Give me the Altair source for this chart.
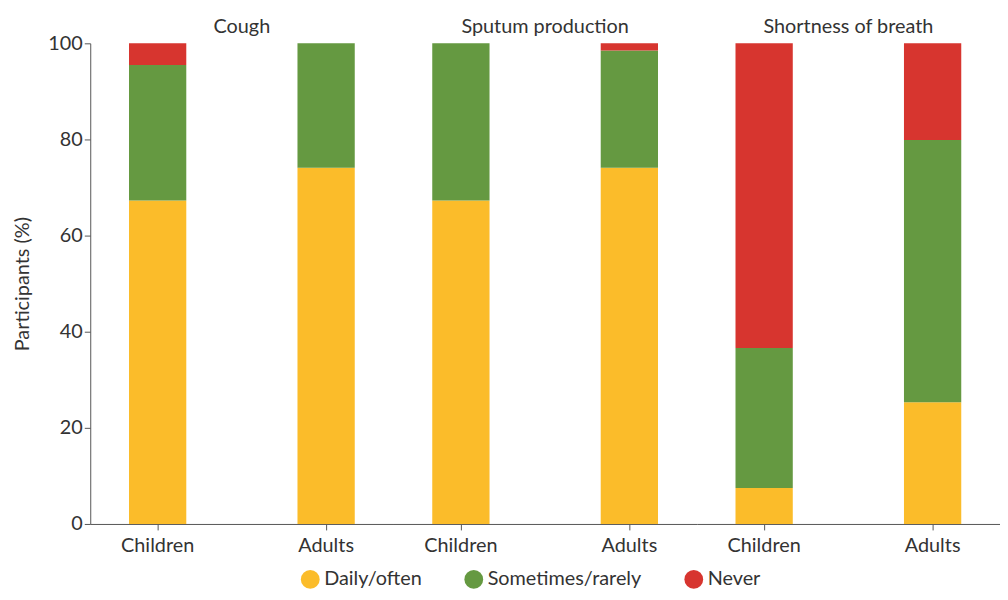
import altair as alt
import pandas as pd

groups = ["Cough", "Sputum production", "Shortness of breath"]
ages = ["Children", "Adults"]
responses = ["Daily/often", "Sometimes/rarely", "Never"]
colors = ["#FBBC2A", "#659941", "#D7352F"]

# per bar, in order: Cough-Children, Cough-Adults, Sputum-Children, Sputum-Adults, SoB-Children, SoB-Adults
daily = [67.3, 74.1, 67.3, 74.1, 7.5, 25.3]
sometimes = [28.2, 25.9, 32.7, 24.4, 29.1, 54.6]
never = [4.5, 0.0, 0.0, 1.5, 63.4, 20.1]

rows = []
i = 0
for g in groups:
    for a in ages:
        for k, (r, vals) in enumerate(zip(responses, [daily, sometimes, never])):
            rows.append({"group": g, "age": a, "response": r, "order": k, "value": vals[i]})
        i += 1
df = pd.DataFrame(rows)

FONT = "Lato"
FS = 20

chart = alt.Chart(df).mark_bar().encode(
    x=alt.X("age:N", sort=ages, title=None,
            scale=alt.Scale(paddingInner=0.66, paddingOuter=0.23),
            axis=alt.Axis(labelAngle=0, labelFontSize=FS, labelPadding=6, tickSize=6,
                          domainColor="#555555", tickColor="#555555", labelColor="#333333")),
    y=alt.Y("value:Q", stack="zero", title="Participants (%)",
            scale=alt.Scale(domain=[0, 100]),
            axis=alt.Axis(values=[0, 20, 40, 60, 80, 100], grid=False, labelFontSize=FS,
                          titleFontSize=FS, titleFontWeight="normal", tickSize=6,
                          domainColor="#555555", tickColor="#555555", labelColor="#333333",
                          titleColor="#333333", titlePadding=16)),
    color=alt.Color("response:N", sort=responses,
                    scale=alt.Scale(domain=responses, range=colors),
                    legend=alt.Legend(title=None, orient="none", direction="horizontal",
                                      legendX=212, legendY=531,
                                      symbolType="circle", symbolSize=360, labelFontSize=FS,
                                      labelColor="#333333", columnPadding=42, symbolOpacity=1,
                                      symbolStrokeWidth=0)),
    order=alt.Order("order:Q"),
).properties(width=306, height=485).facet(
    column=alt.Column("group:N", sort=groups,
                      header=alt.Header(title=None, labelFontSize=FS, labelColor="#333333",
                                        labelOrient="top", labelPadding=6)),
    spacing=0,
).configure(font=FONT).configure_view(stroke=None).properties(padding={"left": 4, "top": 7, "right": 0, "bottom": 0})

chart.save("out.html", embed_options={"renderer": "svg", "actions": False})
